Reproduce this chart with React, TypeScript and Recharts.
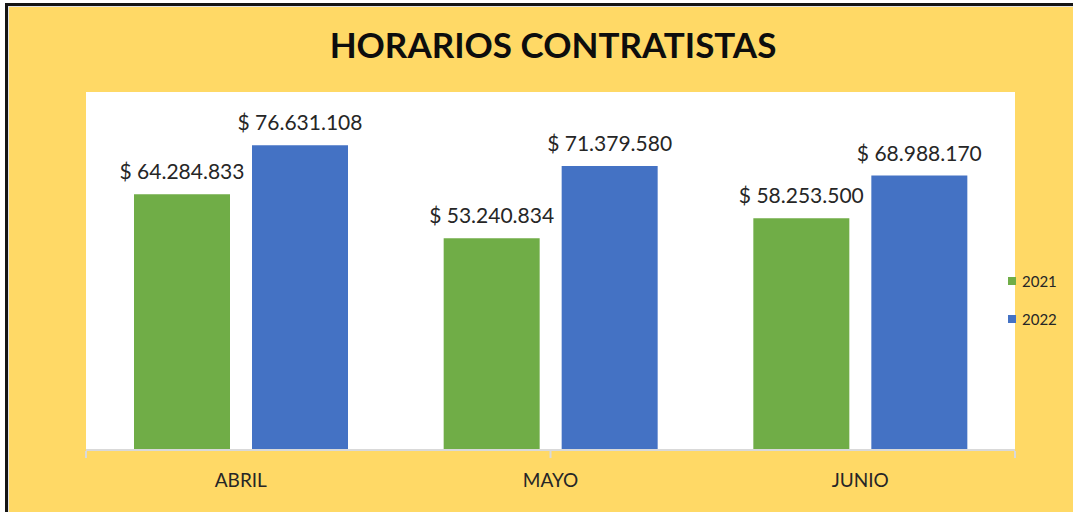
import { BarChart, Bar, XAxis, YAxis, CartesianGrid, LabelList } from "recharts";

const months = ["ABRIL", "MAYO", "JUNIO"];
const values2021 = [64284833, 53240834, 58253500];
const values2022 = [76631108, 71379580, 68988170];
const series = [
  { key: "y2021", name: "2021", color: "#70AD47" },
  { key: "y2022", name: "2022", color: "#4472C4" },
];

const data = months.map((m, i) => ({
  month: m,
  y2021: values2021[i],
  y2022: values2022[i],
}));

const FONT = "Lato, Calibri, 'Liberation Sans', sans-serif";

function money(v: number) {
  return "$ " + String(v).replace(/\B(?=(\d{3})+(?!\d))/g, ".");
}

export default function App() {
  return (
    <div
      style={{
        position: "fixed",
        left: 0,
        top: 0,
        width: 1073,
        height: 512,
        overflow: "hidden",
        background: "#fff",
        fontFamily: FONT,
      }}
    >
      <div
        style={{
          position: "absolute",
          left: 5,
          top: 3,
          width: 1090,
          height: 530,
          border: "3px solid #141414",
          boxShadow: "inset 0 0 0 1px #e0e0e0",
          background: "#FFD966",
        }}
      />
      <div
        style={{
          position: "absolute",
          left: 0,
          width: 1106,
          top: 22,
          textAlign: "center",
          fontSize: 35,
          fontWeight: 700,
          color: "#0d0d0d",
          lineHeight: "44px",
        }}
      >
        HORARIOS CONTRATISTAS
      </div>
      <div style={{ position: "absolute", left: 0, top: 0 }}>
        <BarChart
          width={1073}
          height={512}
          data={data}
          margin={{ top: 92, right: 58, left: 86, bottom: 60 }}
          barSize={96}
          barGap={22}
        >
          <CartesianGrid horizontal={false} vertical={false} fill="#ffffff" stroke="none" />
          <XAxis
            dataKey="month"
            axisLine={{ stroke: "#d9d9d9", strokeWidth: 2 }}
            tickLine={false}
            tickMargin={18}
            height={1}
            tick={{ fill: "#262626", fontSize: 19, fontFamily: FONT }}
          />
          <XAxis
            xAxisId="edge"
            type="number"
            domain={[0, months.length]}
            ticks={months.map((_, i) => i).concat(months.length)}
            tickFormatter={() => ""}
            tick={{ fontSize: 1 }}
            axisLine={false}
            tickLine={{ stroke: "#d9d9d9", strokeWidth: 2 }}
            tickSize={7}
            height={1}
            interval={0}
            allowDataOverflow
          />
          <YAxis hide domain={[0, 90000000]} />
          {series.map((s) => (
            <Bar key={s.key} dataKey={s.key} name={s.name} fill={s.color} isAnimationActive={false}>
              <LabelList
                dataKey={s.key}
                position="top"
                offset={15}
                formatter={(v: any) => money(Number(v))}
                style={{ fill: "#262626", fontSize: 21, fontFamily: FONT }}
              />
            </Bar>
          ))}
        </BarChart>
      </div>
      <div style={{ position: "absolute", left: 1008, top: 271 }}>
        {series.map((s) => (
          <div
            key={s.key}
            style={{ display: "flex", alignItems: "center", height: 20, marginBottom: 18 }}
          >
            <span style={{ width: 8, height: 8, background: s.color, display: "inline-block" }} />
            <span style={{ marginLeft: 6, fontSize: 15, color: "#262626" }}>{s.name}</span>
          </div>
        ))}
      </div>
    </div>
  );
}
